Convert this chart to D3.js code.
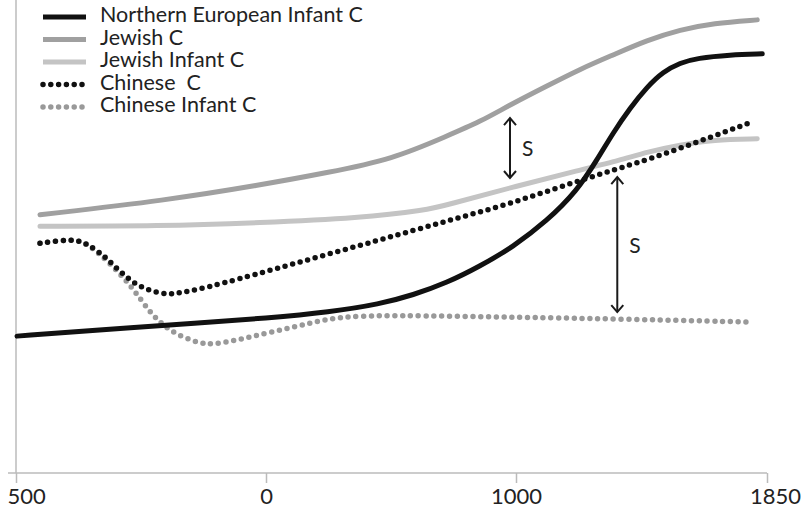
<!DOCTYPE html>
<html><head><meta charset="utf-8">
<script src="https://cdn.jsdelivr.net/npm/d3@7"></script>
<style>body{margin:0;background:#fff}svg{display:block}text{font-family:Lato,"Open Sans",sans-serif;white-space:pre}</style>
</head><body><svg id="c" width="804" height="509"></svg>
<script>
// ---- data ----
const tickYears = [-500, 0, 1000, 1850];
const tickLabels = ["500", "0", "1000", "1850"];
const seriesNames = ["Northern European Infant C", "Jewish C", "Jewish Infant C", "Chinese  C", "Chinese Infant C"];

const northernInfantYears = [-498,-332,-132,0,256,456,588,724,856,988,1105,1207,1274,1328,1386,1444,1498,1556,1613,1725,1834];
const northernInfantVals  = [29.0,30.3,31.8,32.8,34.1,35.8,37.7,40.3,43.8,47.9,53.4,59.8,66.3,72.0,77.3,81.8,85.0,86.9,87.9,88.6,88.8];

const jewishYears = [-452,-198,-12,244,508,724,856,976,1105,1218,1330,1444,1556,1668,1817];
const jewishVals  = [54.7,57.8,61.0,63.6,66.5,71.4,74.4,78.0,82.0,85.6,88.6,91.7,93.9,95.3,96.0];

const jewishInfantYears = [-452,-212,-12,376,644,724,988,1218,1354,1444,1556,1668,1817];
const jewishInfantVals  = [52.3,52.3,53.0,54.0,55.7,56.8,60.6,64.2,66.3,68.0,69.5,70.6,70.8];

const chineseYears = [-452,-388,-358,-318,-266,-206,-172,-98,108,456,724,988,1218,1444,1613,1800];
const chineseVals  = [48.7,49.6,48.7,45.6,39.8,37.7,38.1,39.8,44.3,49.4,53.4,57.2,62.1,66.3,70.1,74.4];

const chineseInfantYears = [-452,-388,-358,-312,-266,-232,-192,-132,-98,-32,108,256,416,856,1218,1785];
const chineseInfantVals  = [48.7,49.6,48.7,44.5,39.2,33.9,29.9,27.3,27.3,28.8,30.9,32.8,33.5,33.1,32.8,32.0];

// gap annotations: year, from value, to value, label
const gapYears = [976, 1343];
const gapFrom  = [75.2, 62.7];
const gapTo    = [62.5, 34.1];
const gapLabels = ["S", "S"];

// ---- drawing ----
const svg = d3.select("#c");
const x = d3.scaleLinear().domain(tickYears).range([16, 266, 516, 767]);
const y = d3.scaleLinear().domain([0, 100]).range([473, 1]);

const styles = [
  {color:"#111", w:5, dash:null},
  {color:"#a0a0a0", w:5, dash:null},
  {color:"#c4c4c4", w:5, dash:null},
  {color:"#111", w:5.5, dash:"0 7.8"},
  {color:"#999", w:5.5, dash:"0 7.8"}
];
const series = [
  [northernInfantYears, northernInfantVals],
  [jewishYears, jewishVals],
  [jewishInfantYears, jewishInfantVals],
  [chineseYears, chineseVals],
  [chineseInfantYears, chineseInfantVals]
].map(([ys, vs], i) => ({name: seriesNames[i], pts: ys.map((yr, j) => [yr, vs[j]]), st: styles[i]}));

// axes
svg.append("line").attr("x1", 16).attr("x2", 16).attr("y1", 0).attr("y2", y(0))
  .attr("stroke", "#bbb").attr("stroke-width", 1.5);
const xAxis = d3.axisBottom(x).tickValues(tickYears).tickFormat((d, i) => tickLabels[i]).tickSize(10).tickSizeOuter(0).tickPadding(5);
const ga = svg.append("g").attr("transform", `translate(0,${y(0)})`).call(xAxis);
ga.select(".domain").attr("d", `M8,0H${x(1850)}`).attr("stroke", "#bbb").attr("stroke-width", 1.5);
ga.selectAll(".tick line").attr("stroke", "#bbb").attr("stroke-width", 1.5);
const nT = tickLabels.length;
ga.selectAll(".tick text").attr("fill", "#222").style("font-size", "22px").style("font-family", "Lato, sans-serif")
  .attr("text-anchor", (d, i) => i === 0 ? "start" : "middle")
  .attr("dx", (d, i) => i === 0 ? -9 : (i === nT - 1 ? 8 : 0));

const line = d3.line().x(d => x(d[0])).y(d => y(d[1])).curve(d3.curveBasis);
const order = [4, 2, 1, 3, 0];
order.forEach(i => {
  const s = series[i];
  svg.append("path").attr("d", line(s.pts)).attr("fill", "none")
    .attr("stroke", s.st.color).attr("stroke-width", s.st.w)
    .attr("stroke-linecap", "round").attr("stroke-dasharray", s.st.dash);
});

// gap arrows
gapYears.forEach((yr, i) => {
  const gx = x(yr), y1 = y(gapFrom[i]), y2 = y(gapTo[i]);
  const g = svg.append("g").attr("stroke", "#1a1a1a").attr("stroke-width", 2).attr("fill", "none");
  g.append("line").attr("x1", gx).attr("x2", gx).attr("y1", y1).attr("y2", y2);
  g.append("path").attr("d", `M${gx-6},${y1+7}L${gx},${y1}L${gx+6},${y1+7}`);
  g.append("path").attr("d", `M${gx-6},${y2-7}L${gx},${y2}L${gx+6},${y2-7}`);
  svg.append("text").attr("x", gx + 12).attr("y", (y1 + y2) / 2 + 8)
    .attr("fill", "#222").style("font-size", "21px").text(gapLabels[i]);
});

// legend
seriesNames.forEach((n, i) => {
  const base = 22 + i * 22.5;
  const ly = base - 5;
  const s = styles[i];
  svg.append("line").attr("x1", 43).attr("x2", 86).attr("y1", ly).attr("y2", ly)
    .attr("stroke", s.color).attr("stroke-width", s.w)
    .attr("stroke-linecap", s.dash ? "round" : "butt").attr("stroke-dasharray", s.dash ? "0 7.8" : null);
  svg.append("text").attr("x", 100).attr("y", base).attr("fill", "#222")
    .style("font-size", "21.5px").text(n);
});
</script></body></html>
